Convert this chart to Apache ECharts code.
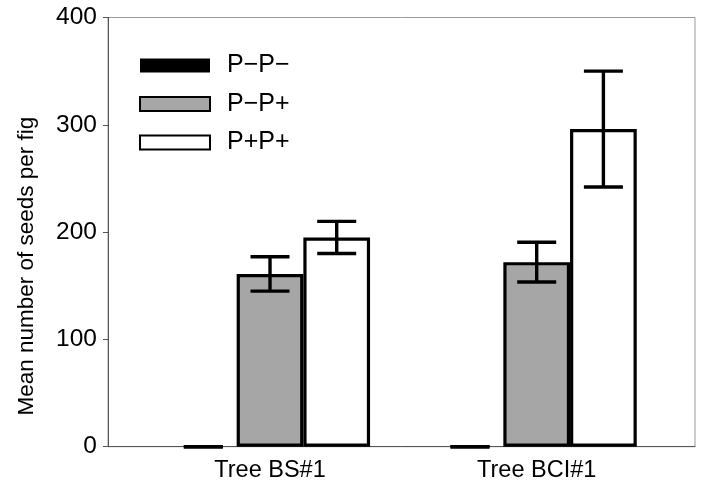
<!DOCTYPE html>
<html>
<head>
<meta charset="utf-8">
<script src="https://cdn.jsdelivr.net/npm/echarts@6/dist/echarts.min.js"></script>
<style>html,body{margin:0;padding:0;background:#fff}#c{width:701px;height:488px}</style>
</head>
<body>
<div id="c"></div>
<script>
var categories = ['Tree BS#1', 'Tree BCI#1'];
var seriesNames = ['P\u2212P\u2212', 'P\u2212P+', 'P+P+'];
var meanPmPm = [0, 0];
var meanPmPp = [161, 172];
var meanPpPp = [195, 296];
var errPmPm = [0, 0];
var errPmPp = [16, 18.5];
var errPpPp = [15, 54];
var yTicks = [0, 100, 200, 300, 400];

var FONT = '"Liberation Sans", Arial, sans-serif';
var BAR_W = 66.7;
var means = [meanPmPm, meanPmPp, meanPpPp];
var errs = [errPmPm, errPmPp, errPpPp];
var fills = ['#000000', '#a6a6a6', '#ffffff'];

var series = [];
means.forEach(function (m, si) {
  series.push({
    name: seriesNames[si],
    type: 'bar',
    barWidth: BAR_W,
    barGap: '0%',
    data: m.map(function (v, i) { return [i, v]; }),
    itemStyle: {
      color: fills[si],
      borderColor: '#000',
      borderWidth: si === 0 ? 0 : 3.2
    },
    emphasis: { disabled: true },
    z: 2
  });
});

var errData = [];
means.forEach(function (m, si) {
  m.forEach(function (v, i) {
    errData.push([i, v - errs[si][i], v + errs[si][i], si]);
  });
});

series.push({
  type: 'custom',
  silent: true,
  z: 5,
  data: errData,
  encode: { x: 0, y: [1, 2] },
  renderItem: function (params, api) {
    var x = api.value(0);
    var si = api.value(3);
    var lo = api.coord([x, api.value(1)]);
    var hi = api.coord([x, api.value(2)]);
    var off = (si - 1) * BAR_W;
    var cx = lo[0] + off;
    var hw = 19.5;
    var st = { stroke: '#000', lineWidth: 3.4, fill: null };
    return {
      type: 'group',
      children: [
        { type: 'line', shape: { x1: cx, y1: lo[1], x2: cx, y2: hi[1] }, style: st },
        { type: 'line', shape: { x1: cx - hw, y1: lo[1], x2: cx + hw, y2: lo[1] }, style: st },
        { type: 'line', shape: { x1: cx - hw, y1: hi[1], x2: cx + hw, y2: hi[1] }, style: st }
      ]
    };
  }
});

var chart = echarts.init(document.getElementById('c'), null, { renderer: 'canvas' });
chart.setOption({
  backgroundColor: '#fff',
  animation: false,
  grid: {
    left: 108, top: 17.5, right: 6, bottom: 41.3,
    show: true, borderColor: '#9a9a9a', borderWidth: 1
  },
  legend: {
    orient: 'vertical',
    left: 134, top: 48,
    itemWidth: 70, itemHeight: 14,
    itemGap: 13.5,
    icon: 'rect',
    data: seriesNames,
    selectedMode: false,
    textStyle: { fontFamily: FONT, fontSize: 25, color: '#000', lineHeight: 24, padding: [0, 0, 0, 12] }
  },
  xAxis: {
    type: 'value',
    min: -0.6075, max: 1.5936,
    splitLine: { show: false },
    axisLine: { show: true, onZero: false, lineStyle: { color: '#555', width: 1 } },
    axisTick: { show: false },
    axisLabel: {
      customValues: [0, 1],
      formatter: function (v) { return categories[Math.round(v)]; },
      fontFamily: FONT, fontSize: 23.5, color: '#000', margin: 12
    }
  },
  yAxis: {
    type: 'value',
    min: 0, max: 400, interval: 100,
    name: 'Mean number of seeds per fig',
    nameLocation: 'middle',
    nameGap: 70,
    nameTextStyle: { fontFamily: FONT, fontSize: 22.5, color: '#000', padding: [0, 68, 0, 0] },
    splitLine: { show: false },
    axisLine: { show: true, onZero: false, lineStyle: { color: '#555', width: 1 } },
    axisTick: { show: true, inside: false, length: 5, lineStyle: { color: '#555' } },
    axisLabel: {
      customValues: yTicks,
      fontFamily: FONT, fontSize: 24.5, color: '#000', margin: 11
    }
  },
  series: series
});
</script>
</body>
</html>
